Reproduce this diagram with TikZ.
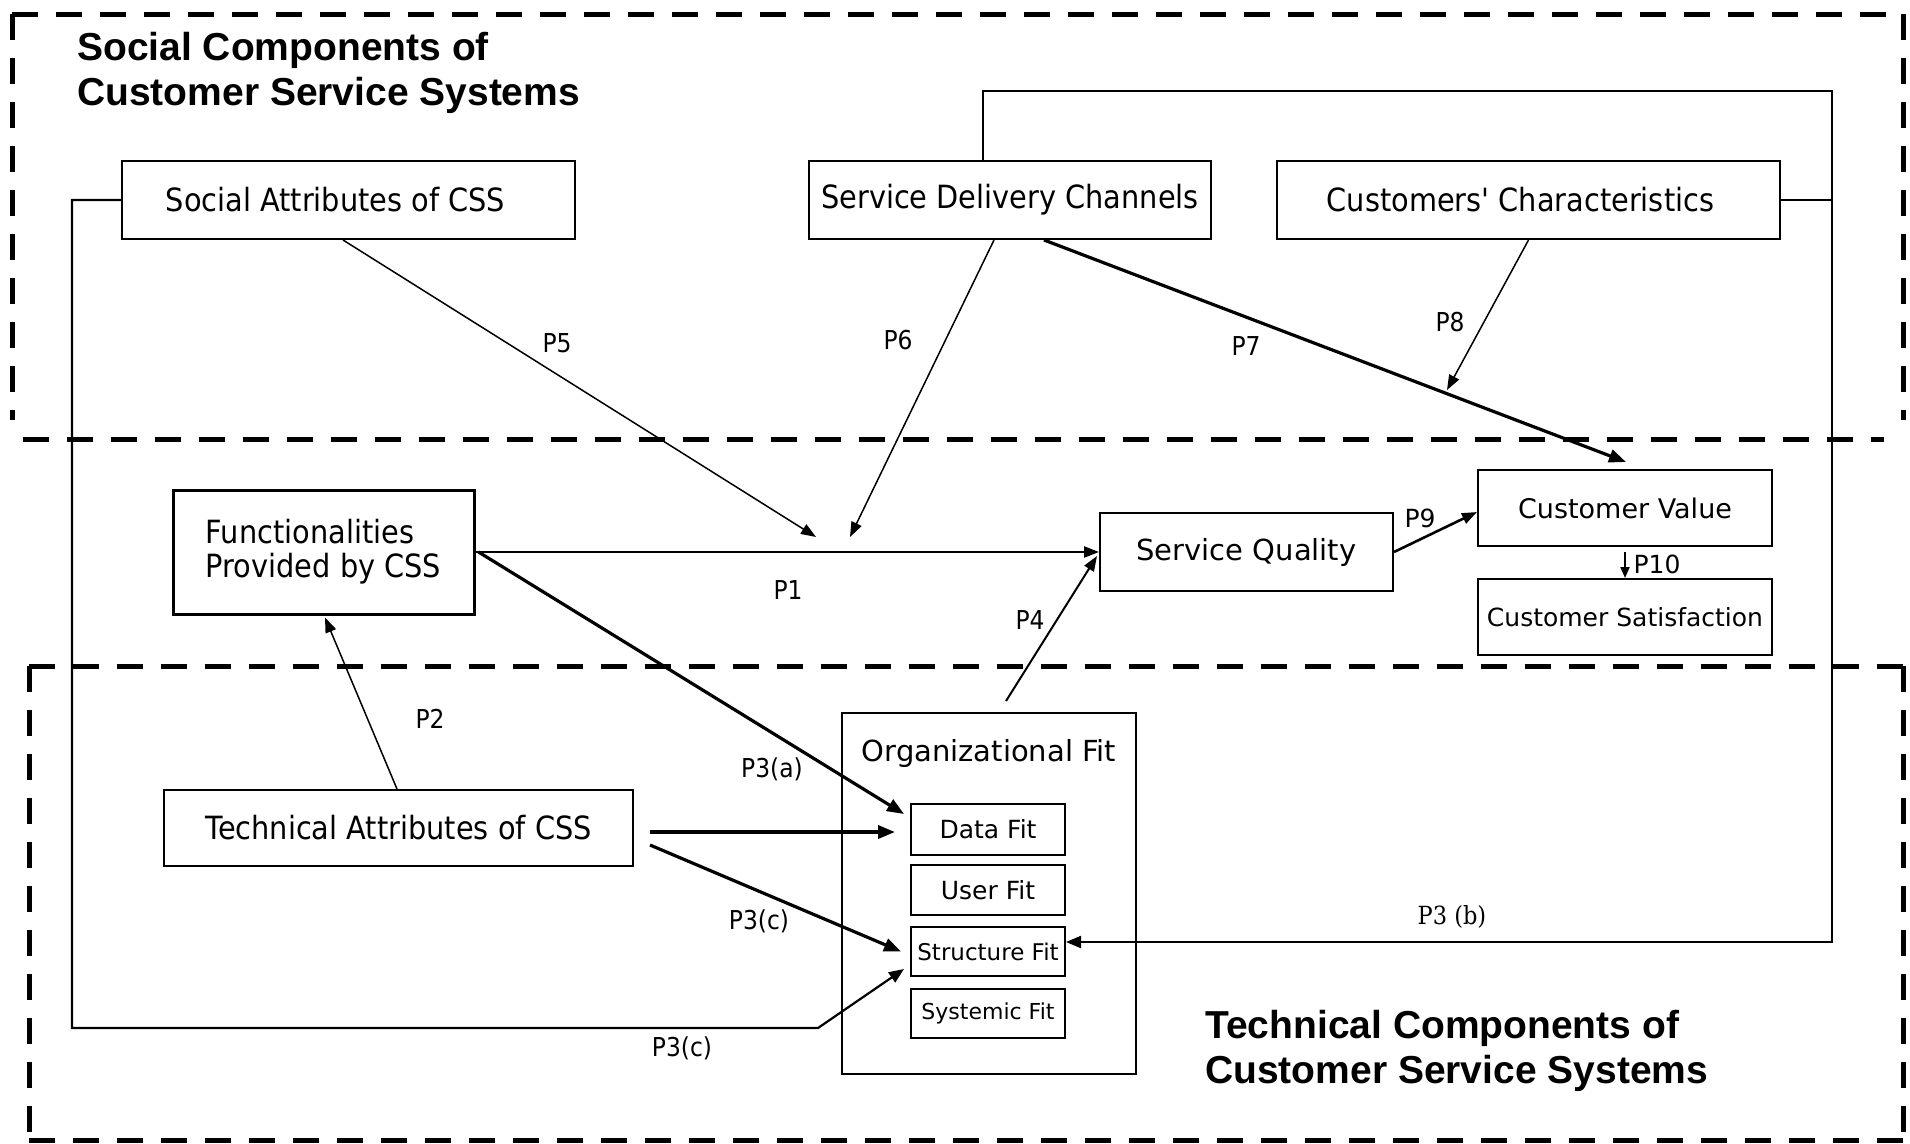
\documentclass[tikz,border=0pt]{standalone}
\usepackage{fontspec}
\setmainfont{DejaVu Sans}
\newfontfamily\condfont{DejaVu Sans}[FakeStretch=0.9]
\newfontfamily\headfont{Liberation Sans}
\newfontfamily\labserif{DejaVu Serif}[FakeStretch=0.9]
\usetikzlibrary{arrows.meta,calc}

\begin{document}
\begin{tikzpicture}[x=1pt,y=-1pt,
  frame/.style={line width=5pt,dash pattern=on 26pt off 18pt},
  condbox/.style={draw,line width=2pt,inner sep=0pt,align=center,
    font=\condfont\fontsize{32}{34}\selectfont},
  plainbox/.style={draw,line width=2pt,inner sep=0pt,align=center,
    font=\fontsize{29}{31}\selectfont},
  fitbox/.style={draw,line width=2pt,inner sep=0pt,align=center,
    minimum width=154pt,font=\fontsize{25}{27}\selectfont},
  heading/.style={anchor=base west,inner sep=0pt,
    font=\headfont\bfseries\fontsize{39}{45}\selectfont},
  lab/.style={inner sep=0pt,font=\condfont\fontsize{26}{28}\selectfont},
  labreg/.style={inner sep=0pt,font=\fontsize{25}{27}\selectfont},
  thin/.style={line width=1.5pt,-{Triangle[length=15pt,width=11pt]}},
  mid/.style={line width=2.2pt,-{Triangle[length=15pt,width=11pt]}},
  thick/.style={line width=3.2pt,-{Triangle[length=17pt,width=13pt]}},
  loopline/.style={line width=2.2pt}]

\useasboundingbox (0,0) rectangle (1910,1143);

% dashed frames of the two component groups
\draw[frame] (12,14) -- (1903,14);
\draw[frame] (12,14) -- (12,420);
\draw[frame] (1903,14) -- (1903,420);
\draw[frame] (23,439) -- (1884,439);
\draw[frame] (29,666) -- (1903,666);
\draw[frame] (29,666) -- (29,1140);
\draw[frame] (1903,666) -- (1903,1140);
\draw[frame] (29,1140) -- (1903,1140);

% group headings
\node[heading] (hs1) at (77,60) {Social Components of};
\node[heading] (hs2) at (77,105) {Customer Service Systems};
\node[heading] (ht1) at (1205,1038) {Technical Components of};
\node[heading] (ht2) at (1205,1083) {Customer Service Systems};

% social components
\node[condbox,minimum width=453pt,minimum height=78pt] (sa) at (348.5,200)
  {Social Attributes of CSS\hspace*{26pt}};
\node[condbox,minimum width=402pt,minimum height=78pt] (sdc) at (1010,200)
  {Service Delivery Channels};
\node[condbox,minimum width=503pt,minimum height=78pt] (cc) at (1528.5,200)
  {Customers' Characteristics\hspace*{16pt}};

% middle row
\node[condbox,line width=3pt,minimum width=301pt,minimum height=124pt,align=left] (fn)
  at (323.5,552) {Functionalities\\Provided by CSS};
\node[plainbox,minimum width=293pt,minimum height=78pt] (sq) at (1246.5,552)
  {Service Quality};
\node[plainbox,minimum width=294pt,minimum height=76pt,font=\fontsize{27}{29}\selectfont]
  (cv) at (1625,508) {Customer Value};
\node[plainbox,minimum width=294pt,minimum height=76pt,font=\fontsize{25}{27}\selectfont]
  (cs) at (1625,617) {Customer Satisfaction};

% technical components
\node[condbox,minimum width=469pt,minimum height=76pt] (ta) at (398.5,828)
  {Technical Attributes of CSS};
\node[draw,line width=2pt,minimum width=294pt,minimum height=361pt,inner sep=0pt]
  (of) at (989,893.5) {};
\node[inner sep=0pt,font=\fontsize{29}{31}\selectfont] (oft) at (989,753)
  {Organizational Fit};
\node[fitbox,minimum height=51pt] (df) at (988,829.5) {Data Fit};
\node[fitbox,minimum height=50pt] (uf) at (988,890) {User Fit};
\node[fitbox,minimum height=49pt,font=\fontsize{23}{25}\selectfont] (stf) at (988,951.5)
  {Structure Fit};
\node[fitbox,minimum height=49pt,font=\fontsize{22}{24}\selectfont] (syf) at (988,1013.5)
  {Systemic Fit};

% free ends of the moderating paths
\coordinate (p5end) at (816,537);
\coordinate (p6end) at (850,537);
\coordinate (p7end) at (1626,462);
\coordinate (p8end) at (1447,390);

% route corners of the P3 (b) and lower P3(c) paths
\coordinate (bTL) at (983,91);
\coordinate (bTR) at (1832,91);
\coordinate (bBR) at (1832,942);
\coordinate (aTL) at (72,200);
\coordinate (aBL) at (72,1028);
\coordinate (aBR) at (818,1028);

% connectors
\draw[thin] ([xshift=-5.5pt]sa.south) -- (p5end);
\draw[thin] ([xshift=-16pt]sdc.south) -- (p6end);
\draw[thick] ([xshift=34pt]sdc.south) -- (p7end);
\draw[thin] (cc.south) -- (p8end);

\draw[loopline,-{Triangle[length=15pt,width=12pt]}]
  ([xshift=-27pt]sdc.north) -- (bTL) -- (bTR) -- (bBR) -- ([yshift=9.5pt]stf.east);
\draw[loopline] (cc.east) -- (cc.east -| bBR);

\draw[loopline,-{Triangle[length=15pt,width=12pt]}]
  (sa.west) -- (aTL) -- (aBL) -- (aBR) -- ([xshift=-6pt,yshift=8pt]stf.south west);

\draw[mid] (fn.east) -- (sq.west);
\draw[thick] ([xshift=3pt]fn.east) -- ([xshift=-6pt,yshift=-11pt]df.north west);
\draw[thin] ([xshift=-1.5pt]ta.north) -- ([xshift=1.5pt,yshift=-2pt]fn.south);
\draw[thick,line width=3.5pt] ([xshift=16pt,yshift=-4pt]ta.east)
  -- ([xshift=-15pt,yshift=-2.5pt]df.west);
\draw[thick] ([xshift=16pt,yshift=-17pt]ta.east) -- ([xshift=-9pt]stf.west);
\draw[mid,line width=2pt] ([xshift=17pt,yshift=11pt]of.north)
  -- ([xshift=-2pt,yshift=-4pt]sq.west);
\draw[mid,line width=2.6pt] (sq.east) -- ([yshift=-4pt]cv.west);
\draw[line width=2pt,-{Triangle[length=11pt,width=9pt]}]
  ([yshift=-5pt]cv.south) -- (cs.north);

% path labels
\node[lab] (lp5) at (557,343) {P5};
\node[lab] (lp6) at (898,340) {P6};
\node[lab] (lp7) at (1246,346) {P7};
\node[lab] (lp8) at (1450,322) {P8};
\node[lab] (lp1) at (788,590) {P1};
\node[lab] (lp2) at (430,719) {P2};
\node[lab] (lp3a) at (772,769) {P3(a)};
\node[lab] (lp3c) at (759,921) {P3(c)};
\node[lab] (lp3cb) at (682,1048) {P3(c)};
\node[lab] (lp4) at (1030,620) {P4};
\node[labreg] (lp9) at (1420,518) {P9};
\node[labreg] (lp10) at (1657,564) {P10};
\node[inner sep=0pt,font=\labserif\fontsize{25}{27}\selectfont] (lp3b) at (1452,917)
  {P3 (b)};
\end{tikzpicture}
\end{document}
